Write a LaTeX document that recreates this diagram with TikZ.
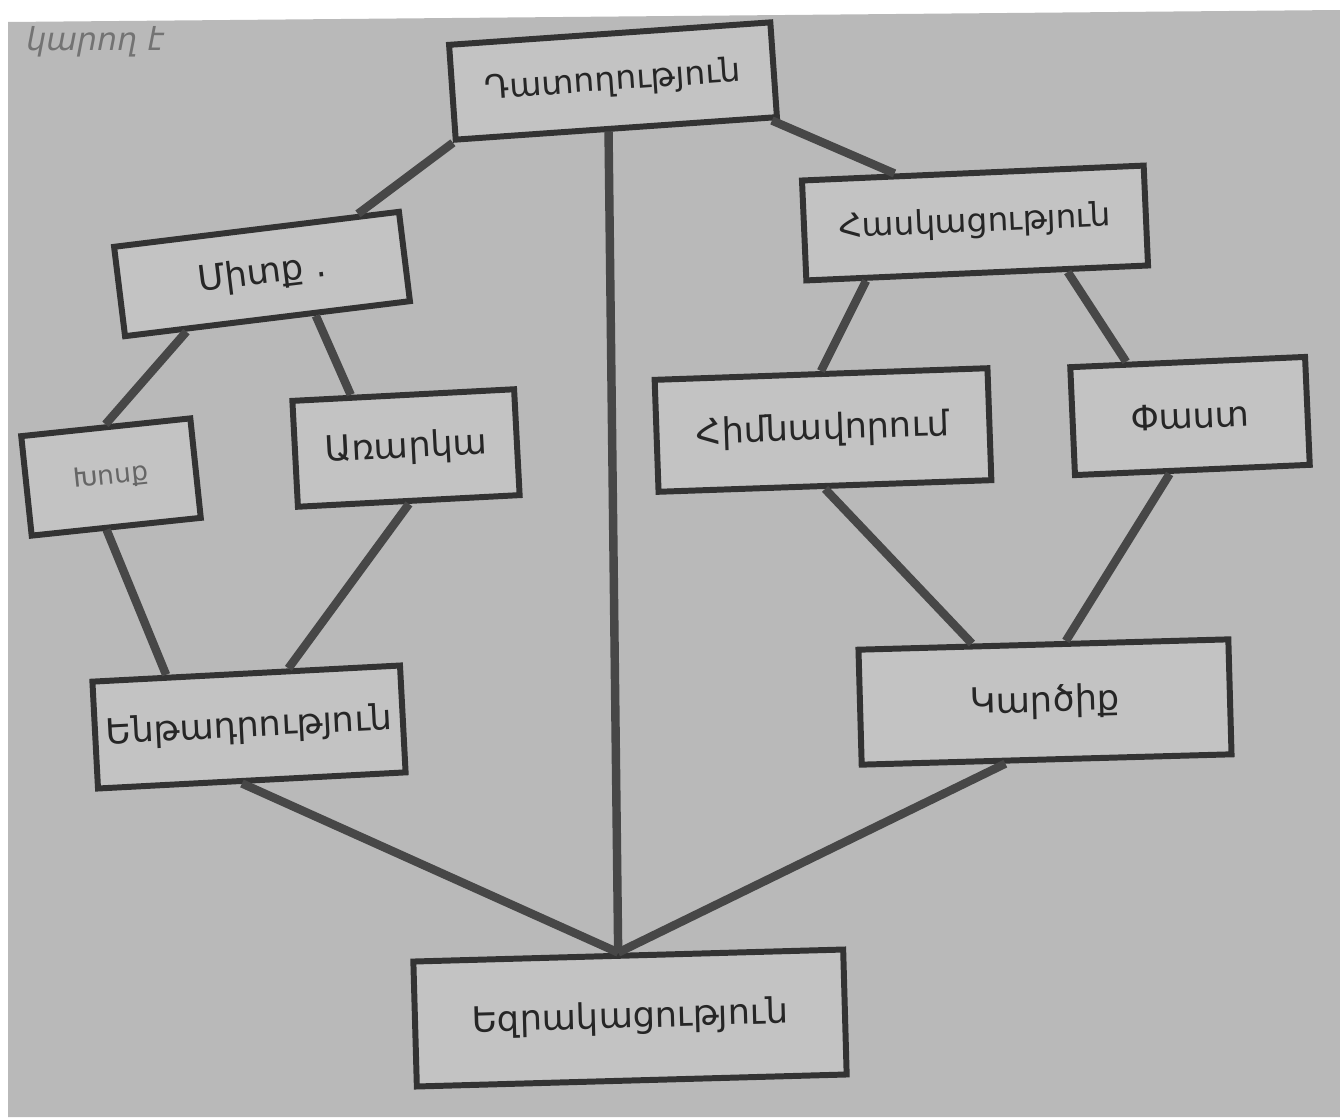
\documentclass[tikz,border=0pt]{standalone}
\usepackage{fontspec}
\setmainfont{DejaVu Sans}
\usetikzlibrary{calc}

\begin{document}
\begin{tikzpicture}[scale=1,
  box/.style={draw=black!80,line width=1.7pt,fill=gray!47,text=black!85,
    font=\fontsize{10}{12}\selectfont,inner sep=0pt},
  link/.style={draw=black!72,line width=2.4pt}]
\useasboundingbox (0,0) rectangle (13.4,-11.17);
\fill [white] (0,0) rectangle (13.4,-11.17);
\fill [gray!55] (0.08,-0.22) -- (13.4,-0.1) -- (13.4,-11.17) -- (0.08,-11.17) -- cycle;
\node [text=black!55,font=\fontsize{9}{10}\selectfont\itshape] (note) at (0.95,-0.42) {կարող է};

\node [box,minimum width=3.22cm,minimum height=0.95cm,rotate=4,font=\fontsize{9.4}{11}\selectfont] (dat) at (6.13,-0.81) {Դատողություն};
\node [box,minimum width=3.42cm,minimum height=1.0cm,rotate=2.5,font=\fontsize{9.3}{11}\selectfont] (has) at (9.75,-2.23) {Հասկացություն};
\node [box,minimum width=2.87cm,minimum height=0.9cm,rotate=7] (mit) at (2.62,-2.74) {Միտք .};
\node [box,minimum width=1.7cm,minimum height=1.0cm,rotate=6,text=black!60,font=\fontsize{7.5}{9}\selectfont] (xos) at (1.11,-4.77) {Խոսք};
\node [box,minimum width=2.22cm,minimum height=1.06cm,rotate=3] (ara) at (4.06,-4.48) {Առարկա};
\node [box,minimum width=3.33cm,minimum height=1.12cm,rotate=2] (him) at (8.23,-4.30) {Հիմնավորում};
\node [box,minimum width=2.35cm,minimum height=1.08cm,rotate=2.5] (pas) at (11.90,-4.16) {Փաստ};
\node [box,minimum width=3.08cm,minimum height=1.07cm,rotate=3] (ent) at (2.49,-7.27) {Ենթադրություն};
\node [box,minimum width=3.70cm,minimum height=1.15cm,rotate=1.6] (kar) at (10.45,-7.02) {Կարծիք};
\node [box,minimum width=4.30cm,minimum height=1.25cm,rotate=1.6] (ezr) at (6.30,-10.18) {Եզրակացություն};

% left branch
\draw [link] (dat.south west) -- ($(mit.north)!0.7!(mit.north east)$);
\draw [link] ($(mit.south)!0.56!(mit.south west)$) -- (xos.north);
\draw [link] ($(mit.south)!0.33!(mit.south east)$) -- ($(ara.north)!0.46!(ara.north west)$);
\draw [link] ([xshift=-1mm]xos.south) -- ($(ent.north)!0.51!(ent.north west)$);
\draw [link] (ara.south) -- ($(ent.north)!0.27!(ent.north east)$);
\draw [link] ([xshift=-1mm]ent.south) -- ([xshift=-1mm]ezr.north);
% middle
\draw [link] ([xshift=-0.8mm]dat.south) -- ([xshift=-1mm]ezr.north);
% right branch
\draw [link] ($(dat.south)!0.95!(dat.south east)$) -- ($(has.north)!0.45!(has.north west)$);
\draw [link] ($(has.south)!0.64!(has.south west)$) -- (him.north);
\draw [link] ($(has.south)!0.52!(has.south east)$) -- ($(pas.north)!0.51!(pas.north west)$);
\draw [link] (him.south) -- ($(kar.north)!0.38!(kar.north west)$);
\draw [link] ($(pas.south)!0.19!(pas.south west)$) -- ($(kar.north)!0.12!(kar.north east)$);
\draw [link] ($(kar.south)!0.22!(kar.south west)$) -- ([xshift=-1mm]ezr.north);
\end{tikzpicture}
\end{document}
